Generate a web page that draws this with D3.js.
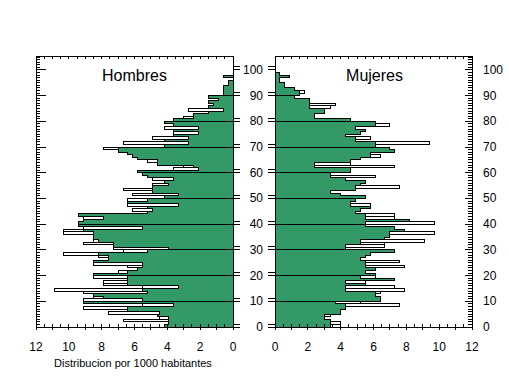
<!DOCTYPE html>
<html><head><meta charset="utf-8">
<script src="https://cdn.jsdelivr.net/npm/d3@7"></script>
<style>
body{margin:0;background:#fff}
svg{display:block}
text{font-family:"Liberation Sans",Arial,sans-serif;fill:#000}
</style>
</head><body>
<svg id="c" width="509" height="376"></svg>
<script>
// ages 0..100, distribution per 1000 inhabitants
const hombresTotal = [4.2,3.9,6.7,4.5,4.6,7.6,6.4,9.1,5.5,9.1,
  9.1,8.5,8.5,9.1,10.9,5.5,7.9,7.9,6.4,8.5,
  8.5,7.0,5.8,6.4,8.5,8.5,7.6,8.2,10.3,6.7,
  7.3,7.3,9.1,8.5,8.5,8.5,10.3,10.3,9.1,9.4,
  9.4,9.1,9.1,9.4,5.2,6.1,5.2,6.4,6.4,6.4,
  4.2,6.1,4.9,6.7,4.9,4.9,4.2,4.9,5.2,5.5,
  5.8,3.6,3.0,4.6,5.2,5.8,6.1,6.4,7.0,7.9,
  4.2,6.7,4.2,4.9,3.6,3.6,3.6,4.2,3.6,4.2,
  3.6,3.0,2.4,1.5,2.7,1.5,1.2,1.5,0.9,1.5,
  0.6,0.6,0.6,0.6,0.3,0.3,0,0.6,0,0,0];
const hombresVerde = [4.2,3.9,3.9,3.9,4.6,4.5,6.4,6.4,3.6,9.1,
  5.5,7.9,8.5,5.2,5.5,3.3,6.4,6.4,6.4,6.4,
  8.5,6.4,5.8,5.5,5.5,8.5,7.6,7.6,8.2,5.2,
  3.9,7.3,7.3,8.2,8.5,8.5,8.5,9.1,5.5,9.4,
  9.4,9.1,7.9,9.4,5.2,4.9,5.2,3.3,6.4,5.2,
  4.2,3.3,4.9,4.9,4.9,3.9,4.2,3.6,5.2,5.5,
  5.8,2.1,2.4,4.6,4.6,5.8,6.1,6.4,7.0,7.0,
  4.2,2.7,4.2,2.7,3.6,2.1,3.6,2.1,3.6,4.2,
  3.6,2.4,2.4,1.5,0.6,1.5,1.2,1.5,0.9,1.5,
  0.6,0.6,0.6,0.6,0.3,0.3,0,0.6,0,0,0];
const mujeresTotal = [3.4,4.0,3.4,3.0,3.4,4.0,4.0,4.3,7.6,5.2,
  6.4,6.4,6.1,6.4,7.9,7.3,5.5,5.5,7.3,6.1,
  6.1,5.5,6.1,7.9,5.5,7.6,5.2,5.5,5.8,7.3,
  4.3,6.7,6.7,9.1,6.7,7.0,9.7,7.9,7.3,5.5,
  9.7,8.2,7.3,7.3,4.9,5.2,5.8,5.8,4.6,4.9,
  5.5,4.0,3.4,4.9,7.6,5.2,5.5,4.3,6.1,3.4,
  4.6,4.6,7.3,4.6,4.6,5.2,6.4,5.8,7.3,7.0,
  6.1,9.4,4.9,5.8,4.3,5.2,5.5,4.9,7.0,6.1,
  4.6,2.4,2.4,3.0,3.0,3.4,3.7,2.1,2.1,1.2,
  1.5,1.8,1.2,0.6,0.6,0.3,0.3,0.9,0.3,0,0];
const mujeresVerde = [3.4,3.4,3.4,3.0,3.0,4.0,4.0,4.3,4.3,3.7,
  6.4,6.4,6.1,6.1,4.3,4.3,5.5,4.3,7.3,5.2,
  6.1,5.5,6.1,5.5,5.5,5.5,5.2,5.5,5.8,7.3,
  4.3,4.3,5.2,5.2,6.7,7.0,7.0,7.9,7.3,5.5,
  5.5,8.2,5.5,5.5,4.9,5.2,5.8,4.6,4.6,4.9,
  5.5,4.0,3.4,4.9,4.9,5.2,5.5,4.3,3.4,3.4,
  4.6,4.6,2.4,2.4,4.6,5.2,5.8,5.8,7.3,7.0,
  6.1,6.1,4.9,4.9,4.3,5.2,5.5,4.9,6.1,6.1,
  4.6,2.4,2.4,3.0,3.0,2.1,2.1,2.1,2.1,1.2,
  1.5,1.5,1.2,0.6,0.6,0.3,0.3,0.9,0.3,0,0];
const xTickLabels = [0,2,4,6,8,10,12];
const yTickLabels = [0,10,20,30,40,50,60,70,80,90,100];
const titles = ["Hombres","Mujeres"];
const xAxisTitle = "Distribucion por 1000 habitantes";

const GREEN = "#339966";
const svg = d3.select("#c");
const y = d3.scaleLinear().domain([0,105.4]).range([327,56]);
const xL = d3.scaleLinear().domain([0,12]).range([233,36]);
const xR = d3.scaleLinear().domain([0,12]).range([275,472]);

function panel(x, total, verde, dir) {
  const g = svg.append("g").attr("shape-rendering","crispEdges");
  const x0 = x(0);
  const data = total.map((v,i)=>({age:i, v:v, g:verde[i]}));
  // green fill
  g.selectAll("rect.f").data(data.filter(d=>d.g>0)).join("rect").attr("class","f")
    .attr("x",d=>Math.min(x0,x(d.g))).attr("width",d=>Math.abs(x(d.g)-x0))
    .attr("y",d=>y(d.age+1)).attr("height",d=>y(d.age)-y(d.age+1))
    .attr("fill",GREEN);
  // step outline
  const p = d3.path();
  p.moveTo(x0,y(0));
  data.forEach(d=>{p.lineTo(x(d.v),y(d.age)); p.lineTo(x(d.v),y(d.age+1));});
  p.lineTo(x0,y(data.length));
  g.append("path").attr("d",p.toString()).attr("fill","none").attr("stroke","#000");
  // white parts
  g.selectAll("rect.w").data(data.filter(d=>d.v>d.g)).join("rect").attr("class","w")
    .attr("x",d=>Math.min(x(d.g),x(d.v))).attr("width",d=>Math.abs(x(d.v)-x(d.g)))
    .attr("y",d=>y(d.age+1)).attr("height",d=>y(d.age)-y(d.age+1))
    .attr("fill","#fff").attr("stroke","#000");
  // decade lines
  yTickLabels.forEach(a=>{
    const len = a===0 ? 0 : Math.max(total[a-1]||0, total[a]||0);
    g.append("line").attr("x1",x0+dir*7).attr("x2",x(len)).attr("y1",y(a)).attr("y2",y(a)).attr("stroke","#000");
    g.append("line").attr("x1",x0+dir*7).attr("x2",x0).attr("y1",y(a)-3).attr("y2",y(a)-3).attr("stroke","#000");
  });
  // frame
  const xa = Math.min(x(0),x(12)), xb = Math.max(x(0),x(12));
  g.append("rect").attr("x",xa).attr("y",y(105.4)).attr("width",xb-xa).attr("height",y(0)-y(105.4))
    .attr("fill","none").attr("stroke","#000");
  // top/bottom ticks every 0.5
  const halfTicks = d3.range(0,12.01,0.5);
  halfTicks.forEach(u=>{
    const isInt = Math.abs(u-Math.round(u))<1e-6;
    g.append("line").attr("x1",x(u)).attr("x2",x(u)).attr("y1",y(0)).attr("y2",y(0)-3).attr("stroke","#000");
    g.append("line").attr("x1",x(u)).attr("x2",x(u)).attr("y1",y(105.4)).attr("y2",y(105.4)+3).attr("stroke","#000");
    if (isInt) {
      g.append("line").attr("x1",x(u)).attr("x2",x(u)).attr("y1",y(0)).attr("y2",y(0)+3).attr("stroke","#000");
    }
  });
  // outer age axis ticks
  const xo = x(12);
  d3.range(0,106,1).forEach(a=>{
    const major = a%10===0;
    const L = major ? (dir>0?10:7) : 4;
    g.append("line").attr("x1",xo).attr("x2",xo+dir*L).attr("y1",y(a)).attr("y2",y(a)).attr("stroke","#000");
  });
  // bottom labels
  svg.append("g").selectAll("text").data(xTickLabels).join("text")
    .attr("x",d=>x(d)).attr("y",351).attr("text-anchor","middle").attr("font-size",12).text(d=>d);
}

panel(xL, hombresTotal, hombresVerde, 1);
panel(xR, mujeresTotal, mujeresVerde, -1);

// age labels
svg.append("g").selectAll("text").data(yTickLabels).join("text")
  .attr("x",263).attr("y",d=>y(d)+4).attr("text-anchor","end").attr("font-size",12).text(d=>d);
svg.append("g").selectAll("text").data(yTickLabels).join("text")
  .attr("x",483).attr("y",d=>y(d)+4).attr("text-anchor","start").attr("font-size",12).text(d=>d);

svg.append("text").attr("x",(xL(0)+xL(12))/2).attr("y",81).attr("text-anchor","middle").attr("font-size",16).text(titles[0]);
svg.append("text").attr("x",(xR(0)+xR(12))/2 + 1).attr("y",81).attr("text-anchor","middle").attr("font-size",16).text(titles[1]);
svg.append("text").attr("x",133).attr("y",367).attr("text-anchor","middle").attr("font-size",11).text(xAxisTitle);
</script>
</body></html>
